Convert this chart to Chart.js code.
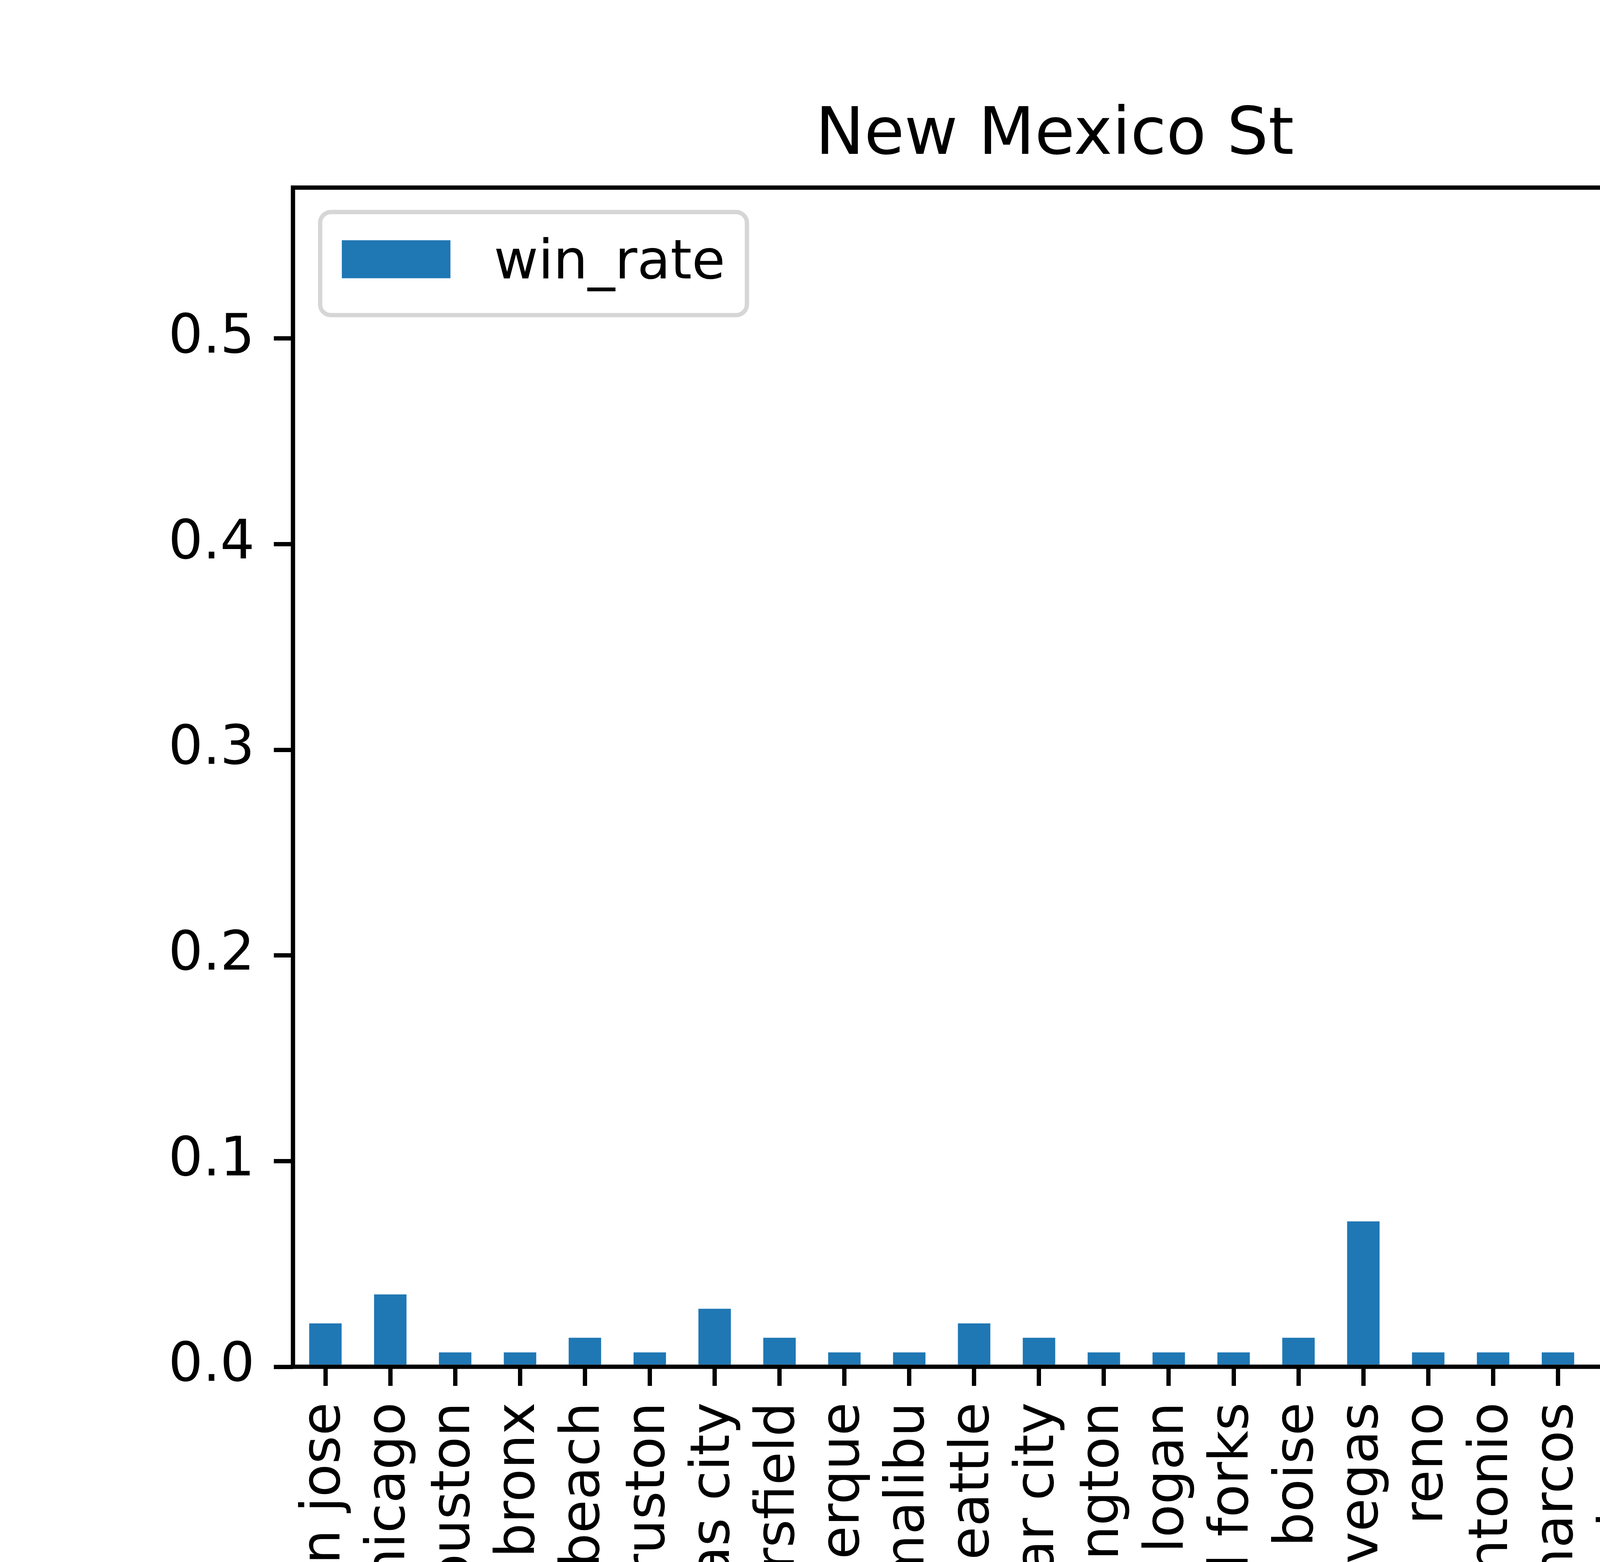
<!DOCTYPE html>
<html>
<head>
<meta charset="utf-8">
<title>New Mexico St</title>
<script src="https://cdn.jsdelivr.net/npm/chart.js@4.4.1/dist/chart.umd.min.js"></script>
<style>
  html, body { margin: 0; padding: 0; background: #fff; overflow: hidden; }
  #chart { display: block; }
</style>
</head>
<body>
<canvas id="chart" width="6000" height="4000" style="width:6000px;height:4000px"></canvas>
<script>
const chartTitle = "New Mexico St";
const seriesName = "win_rate";
const cities = [
  "san jose", "chicago", "houston", "bronx", "long beach", "ruston", "kansas city",
  "bakersfield", "albuquerque", "malibu", "seattle", "cedar city", "arlington", "logan",
  "grand forks", "boise", "las vegas", "reno", "san antonio", "san marcos", "edinburg",
  "las cruces", "fargo", "orem", "el paso", "honolulu", "flagstaff", "phoenix"
];
const winRate = [
  0.0211, 0.0352, 0.0070, 0.0070, 0.0141, 0.0070, 0.0282,
  0.0141, 0.0070, 0.0070, 0.0211, 0.0141, 0.0070, 0.0070,
  0.0070, 0.0141, 0.0707, 0.0070, 0.0070, 0.0070, 0.0282,
  0.5461, 0.0070, 0.0352, 0.0211, 0.0211, 0.0070, 0.0211
];
const yTickStep = 0.1;

const barColor = "#1f77b4";
const fontPx = 139;      // 10pt at 1000 dpi
const titlePx = 167;     // 12pt
const lineW = 11;        // 0.8pt
const tickLen = 49;      // 3.5pt

Chart.defaults.font.family = "'DejaVu Sans', sans-serif";
Chart.defaults.color = "#000";

// axes frame (all four spines, on top of bars) + matplotlib-like legend
const framePlugin = {
  id: "frame",
  afterDatasetsDraw(chart) {
    const { ctx, chartArea: a } = chart;
    ctx.save();
    ctx.strokeStyle = "#000";
    ctx.lineWidth = lineW;
    ctx.lineJoin = "miter";
    ctx.strokeRect(a.left, a.top, a.right - a.left, a.bottom - a.top);

    // legend box, upper left
    const em = fontPx;
    const label = chart.data.datasets[0].label;
    ctx.font = fontPx + "px 'DejaVu Sans'";
    const tw = ctx.measureText(label).width;
    const x0 = a.left + 0.5 * em;
    const y0 = a.top + 0.45 * em;
    const w = 0.4 * em + 2.0 * em + 0.8 * em + tw + 0.4 * em;
    const h = 1.9 * em;
    const r = 0.2 * em;
    ctx.beginPath();
    ctx.roundRect(x0, y0, w, h, r);
    ctx.fillStyle = "rgba(255,255,255,0.8)";
    ctx.fill();
    ctx.strokeStyle = "#d6d6d6";
    ctx.lineWidth = lineW;
    ctx.stroke();
    const hx = x0 + 0.4 * em;
    const hy = y0 + 0.52 * em;
    ctx.fillStyle = chart.data.datasets[0].backgroundColor;
    ctx.fillRect(hx, hy, 2.0 * em, 0.7 * em);
    ctx.fillStyle = "#000";
    ctx.textAlign = "left";
    ctx.textBaseline = "alphabetic";
    ctx.fillText(label, hx + 2.8 * em, hy + 0.7 * em);
    ctx.restore();
  }
};

new Chart(document.getElementById("chart"), {
  type: "bar",
  data: {
    labels: cities,
    datasets: [{
      label: seriesName,
      data: winRate,
      backgroundColor: barColor,
      borderWidth: 0,
      categoryPercentage: 1.0,
      barPercentage: 0.5
    }]
  },
  options: {
    responsive: false,
    animation: false,
    devicePixelRatio: 1,
    layout: { padding: { left: 0, right: 600, top: 0, bottom: 0 } },
    plugins: {
      legend: { display: false },
      tooltip: { enabled: false },
      title: {
        display: true,
        text: chartTitle,
        color: "#000",
        font: { size: titlePx, weight: "normal", lineHeight: 1.2 },
        padding: { top: 250, bottom: 30 }
      }
    },
    scales: {
      x: {
        offset: true,
        border: { display: false },
        grid: {
          offset: false, drawOnChartArea: false, drawTicks: true,
          tickLength: tickLen, color: "#000", lineWidth: lineW
        },
        ticks: {
          autoSkip: false, minRotation: 90, maxRotation: 90,
          padding: 42, color: "#000", font: { size: fontPx }
        },
        afterFit(scale) { scale.height = 500; }
      },
      y: {
        min: 0,
        max: Math.max(...winRate) * 1.05,
        border: { display: false },
        grid: {
          drawOnChartArea: false, drawTicks: true,
          tickLength: tickLen, color: "#000", lineWidth: lineW
        },
        ticks: {
          stepSize: yTickStep, includeBounds: false,
          padding: 49, color: "#000", font: { size: fontPx },
          callback: v => Number(v).toFixed(1)
        },
        afterFit(scale) { scale.width = 750; }
      }
    }
  },
  plugins: [framePlugin]
});
</script>
</body>
</html>
